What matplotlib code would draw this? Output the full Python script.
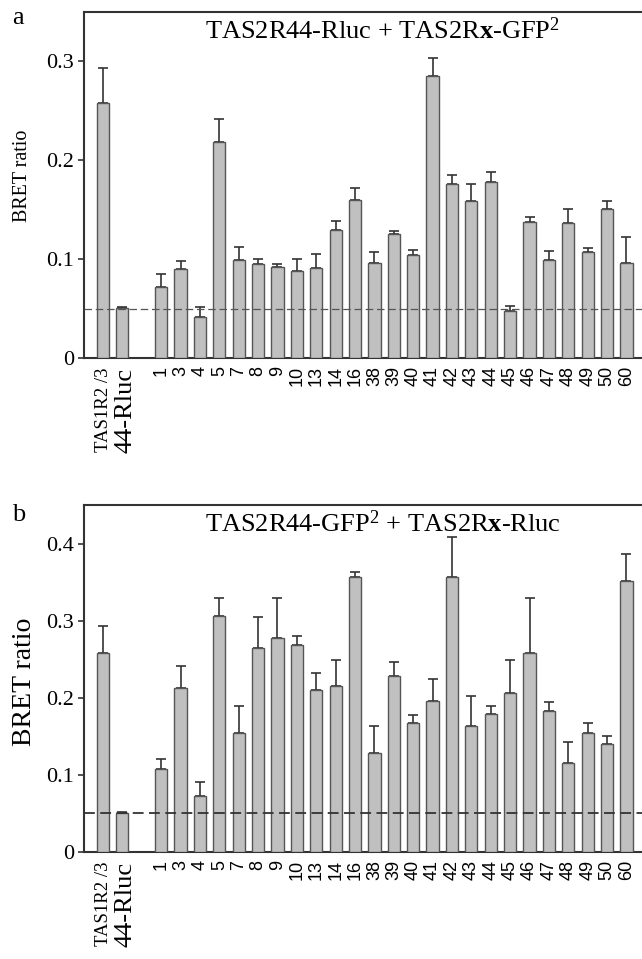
import matplotlib
matplotlib.use("Agg")
import matplotlib.pyplot as plt
import numpy as np

plt.rcParams['font.family'] = ['Liberation Serif', 'DejaVu Serif']
plt.rcParams['mathtext.fontset'] = 'custom'
plt.rcParams['mathtext.rm'] = 'Liberation Serif'
plt.rcParams['mathtext.it'] = 'Liberation Serif:italic'
plt.rcParams['mathtext.bf'] = 'Liberation Serif:bold'

# categories (slot 2 is an empty gap)
categories = ["TAS1R2 /3", "44-Rluc", "1", "3", "4", "5", "7", "8", "9", "10", "13", "14", "16",
              "38", "39", "40", "41", "42", "43", "44", "45", "46", "47", "48", "49", "50", "60"]

# panel a values
a_vals = [0.258, 0.051, 0.072, 0.090, 0.041, 0.218, 0.099, 0.095, 0.092, 0.088, 0.091, 0.129, 0.160,
          0.096, 0.125, 0.104, 0.285, 0.176, 0.159, 0.178, 0.048, 0.138, 0.099, 0.137, 0.107, 0.151, 0.096]
a_err = [0.035, 0.001, 0.013, 0.008, 0.011, 0.024, 0.013, 0.005, 0.003, 0.012, 0.014, 0.010, 0.012,
         0.011, 0.003, 0.005, 0.018, 0.009, 0.017, 0.010, 0.005, 0.005, 0.009, 0.014, 0.004, 0.008, 0.026]

# panel b values
b_vals = [0.258, 0.051, 0.108, 0.213, 0.072, 0.306, 0.154, 0.264, 0.278, 0.268, 0.210, 0.215, 0.357,
          0.129, 0.228, 0.167, 0.196, 0.357, 0.163, 0.179, 0.206, 0.258, 0.183, 0.116, 0.154, 0.140, 0.352]
b_err = [0.035, 0.001, 0.012, 0.028, 0.019, 0.024, 0.035, 0.041, 0.052, 0.012, 0.022, 0.034, 0.006,
         0.035, 0.019, 0.011, 0.028, 0.052, 0.039, 0.010, 0.043, 0.072, 0.012, 0.027, 0.013, 0.011, 0.034]

threshold = 0.05
a_ticks = [0, 0.1, 0.2, 0.3]
b_ticks = [0, 0.1, 0.2, 0.3, 0.4]

# x positions with a gap after the two controls
pos = np.array([0, 1] + list(range(3, 3 + len(categories) - 2)), dtype=float)

fig = plt.figure(figsize=(6.42, 9.59), dpi=100)
W, H = 642, 959

def make_panel(top_px, bottom_px, vals, errs, ylim, yticks, title, ylab_size, ylab_x, ylab_y,
               dash_style, dash_lw, dash_col, letter, letter_y):
    left_px = 84
    ax = fig.add_axes([left_px / W, 1 - bottom_px / H, 1 - left_px / W, (bottom_px - top_px) / H])
    ax.bar(pos, vals, width=0.63, color='#c0c0c0', edgecolor='#555555', linewidth=1.0, zorder=3)
    ax.errorbar(pos, vals, yerr=[np.zeros(len(vals)), errs], fmt='none', ecolor='#333333',
                elinewidth=1.2, capsize=3.8, capthick=1.2, zorder=2)
    ax.axhline(threshold, color=dash_col, lw=dash_lw, dashes=dash_style, zorder=4)
    ax.set_xlim(-0.98, 27.8)
    ax.set_ylim(*ylim)
    ax.set_yticks(yticks)
    ax.set_yticklabels(["0" if t == 0 else f"{t:.1f}" for t in yticks], fontsize=16)
    ax.tick_params(axis='y', length=4, width=1.2, color='#333333', pad=3)
    ax.set_xticks(pos)
    ax.set_xticklabels([])
    ax.tick_params(axis='x', length=0)
    for s in ['left', 'top', 'bottom']:
        ax.spines[s].set_color('#333333')
        ax.spines[s].set_linewidth(1.5)
    ax.spines['right'].set_visible(False)
    off = -0.01 * ylim[1] / 0.35
    for i, (p, c) in enumerate(zip(pos, categories)):
        if i == 0:
            ax.text(p, off, c, rotation=90, ha='center', va='top', fontsize=13.5, clip_on=False)
        elif i == 1:
            ax.text(p + 0.15, off, c, rotation=90, ha='center', va='top', fontsize=19, clip_on=False)
        else:
            ax.text(p, off * 0.8, c, rotation=90, ha='center', va='top', fontsize=13,
                    family=['Liberation Sans', 'DejaVu Sans'], clip_on=False)
    ax.text(0.535, 0.985, title, transform=ax.transAxes, ha='center', va='top', fontsize=19)
    ax.set_ylabel("BRET ratio", fontsize=ylab_size)
    ax.yaxis.set_label_coords(ylab_x, ylab_y)
    fig.text(12 / W, 1 - letter_y / H, letter, fontsize=19, ha='left', va='center')
    return ax

make_panel(12, 358, a_vals, a_err, (0, 0.35), a_ticks,
           r"TAS2R44-Rluc + TAS2R$\mathbf{x}$-GFP$^2$", 14.4, -0.094, 0.526, (6, 3), 0.9, '#555555', 'a', 18)
make_panel(505, 852, b_vals, b_err, (0, 0.45), b_ticks,
           r"TAS2R44-GFP$^2$ + TAS2R$\mathbf{x}$-Rluc", 20, -0.085, 0.49, (6, 3), 1.3, '#333333', 'b', 515)

fig.savefig("out.png", dpi=100)
